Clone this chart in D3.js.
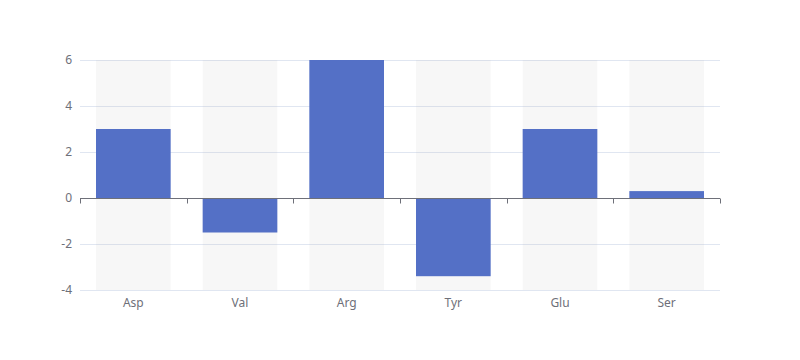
<!DOCTYPE html>
<html>
<head>
<meta charset="utf-8">
<script src="https://cdn.jsdelivr.net/npm/d3@7"></script>
<style>
  body { margin: 0; background: #fff; }
  text { font-family: "Noto Sans", sans-serif; font-size: 12px; fill: #6E7079; }
</style>
</head>
<body>
<div id="chart"></div>
<script>
// data
const categories = ['Asp', 'Val', 'Arg', 'Tyr', 'Glu', 'Ser'];
const values = [3, -1.5, 6, -3.4, 3, 0.3];
const yTicks = [-4, -2, 0, 2, 4, 6];

const width = 800, height = 360;
const margin = { top: 60, right: 80, bottom: 70, left: 80 };

const svg = d3.select('#chart')
    .append('svg')
    .attr('width', width)
    .attr('height', height);

const x = d3.scaleBand()
    .domain(categories)
    .range([margin.left, width - margin.right])
    .paddingInner(0.3)
    .paddingOuter(0.15);

const xOuter = d3.scaleBand()
    .domain(categories)
    .range([margin.left, width - margin.right]);

const y = d3.scaleLinear()
    .domain([-4, 6])
    .range([height - margin.bottom, margin.top]);

// grid lines
svg.append('g')
    .selectAll('line')
    .data(yTicks)
    .enter()
    .append('line')
    .attr('x1', margin.left)
    .attr('x2', width - margin.right)
    .attr('y1', d => y(d) + 0.5)
    .attr('y2', d => y(d) + 0.5)
    .attr('stroke', '#E0E6F1');

// background bars
svg.append('g')
    .selectAll('rect')
    .data(categories)
    .enter()
    .append('rect')
    .attr('x', d => x(d))
    .attr('width', x.bandwidth())
    .attr('y', y(6))
    .attr('height', y(-4) - y(6))
    .attr('fill', 'rgba(180,180,180,0.1)');

// bars
svg.append('g')
    .selectAll('rect')
    .data(values)
    .enter()
    .append('rect')
    .attr('x', (d, i) => x(categories[i]))
    .attr('width', x.bandwidth())
    .attr('y', d => y(Math.max(0, d)))
    .attr('height', d => Math.abs(y(d) - y(0)))
    .attr('fill', '#5470C6');

// y axis labels
svg.append('g')
    .selectAll('text')
    .data(yTicks)
    .enter()
    .append('text')
    .attr('x', margin.left - 8)
    .attr('y', d => y(d))
    .attr('dy', '0.35em')
    .attr('text-anchor', 'end')
    .text(d => d);

// x axis line at zero
const zeroY = Math.round(y(0)) + 0.5;
svg.append('line')
    .attr('x1', margin.left)
    .attr('x2', width - margin.right)
    .attr('y1', zeroY)
    .attr('y2', zeroY)
    .attr('stroke', '#6E7079');

// ticks at category boundaries
const boundaries = categories.map(c => xOuter(c)).concat([width - margin.right]);
svg.append('g')
    .selectAll('line')
    .data(boundaries)
    .enter()
    .append('line')
    .attr('x1', d => Math.round(d) + 0.5)
    .attr('x2', d => Math.round(d) + 0.5)
    .attr('y1', zeroY)
    .attr('y2', zeroY + 5)
    .attr('stroke', '#6E7079');

// category labels at bottom
svg.append('g')
    .selectAll('text')
    .data(categories)
    .enter()
    .append('text')
    .attr('x', d => xOuter(d) + xOuter.bandwidth() / 2)
    .attr('y', y(-4) + 8)
    .attr('dy', '0.71em')
    .attr('text-anchor', 'middle')
    .text(d => d);
</script>
</body>
</html>
